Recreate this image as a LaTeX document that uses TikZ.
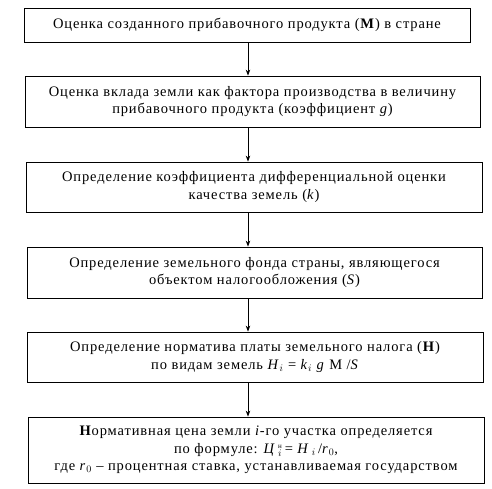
\documentclass[tikz,border=0pt]{standalone}
\usepackage{fontspec}
\setmainfont{Liberation Serif}
\usetikzlibrary{arrows.meta}
\tikzset{
  blk/.style={draw,line width=0.8pt,inner sep=2pt,align=center,
    font=\fontsize{14.5}{17.5}\selectfont\addfontfeature{LetterSpace=6}},
  arr/.style={-{Stealth[length=6pt,width=4.5pt]},line width=0.8pt}
}
\begin{document}
\begin{tikzpicture}[x=1pt,y=-1pt]
        \useasboundingbox(0,0)rectangle(492,488);
        \node[blk,minimum width=446pt,minimum height=34pt](b1)at(247,25)
          {Оценка созданного прибавочного продукта (\textbf{М}) в стране};
        \node[blk,minimum width=455pt,minimum height=51pt](b2)at(252.5,101.5)
          {Оценка вклада земли как фактора производства в величину\\
           прибавочного продукта (коэффициент \textit{g})};
        \node[blk,minimum width=456pt,minimum height=50pt](b3)at(254,187)
          {Определение коэффициента дифференциальной оценки\\
           качества земель (\textit{k})};
        \node[blk,minimum width=455pt,minimum height=51pt](b4)at(254.5,272.5)
          {Определение земельного фонда страны, являющегося\\
           объектом налогообложения (\textit{S})};
        \node[blk,minimum width=456pt,minimum height=50pt](b5)at(255,357)
          {Определение норматива платы земельного налога (\textbf{Н})\\
           по видам земель \textit{H}$_i$ = \textit{k}$_i$ \textit{g} М /\textit{S}};
        \node[blk,minimum width=456pt,minimum height=66pt](b6)at(256,450)
          {\textbf{Н}ормативная цена земли \textit{i}-го участка определяется\\
           по формуле: \textit{Ц}\,$_i^{\hbox{\scriptsize н}}$\,= \textit{H}\,$_i$\,/\textit{r}$_0$,\\
           где \textit{r}$_0$ -- процентная ставка, устанавливаемая государством};
        \coordinate(ax)at(248,0);
        \draw[arr](b1.south-|ax)--(b2.north-|ax);
        \draw[arr](b2.south-|ax)--(b3.north-|ax);
        \draw[arr](b3.south-|ax)--(b4.north-|ax);
        \draw[arr](b4.south-|ax)--(b5.north-|ax);
        \draw[arr](b5.south-|ax)--(b6.north-|ax);
    \end{tikzpicture}
\end{document}
